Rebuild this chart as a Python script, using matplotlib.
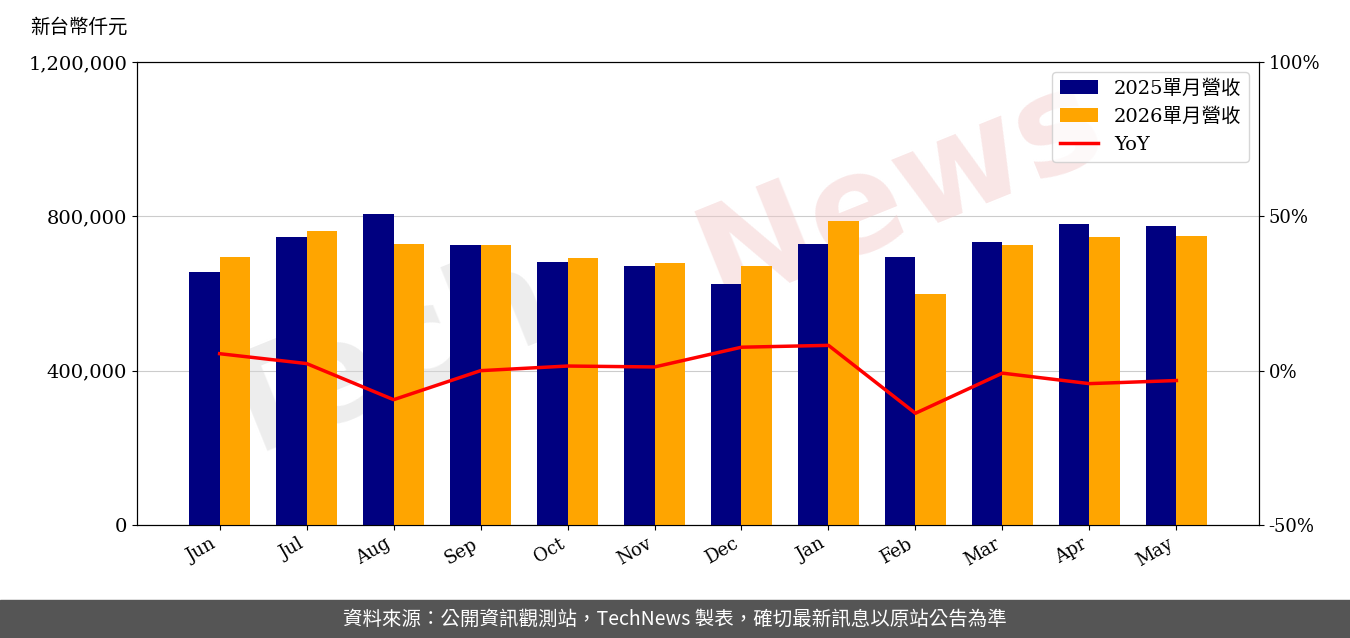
import matplotlib
matplotlib.use("Agg")
import matplotlib.pyplot as plt
import numpy as np

plt.rcParams['font.family'] = ['DejaVu Serif', 'Noto Sans CJK TC']

months = ["Jun", "Jul", "Aug", "Sep", "Oct", "Nov", "Dec", "Jan", "Feb", "Mar", "Apr", "May"]
rev_2025 = [657000, 746000, 805000, 725000, 681000, 671000, 624000, 727000, 694000, 733000, 779000, 774000]
rev_2026 = [694000, 761000, 727000, 725000, 691000, 678000, 671000, 787000, 598000, 725000, 746000, 748000]
yoy = [5.5, 2.3, -9.4, 0.0, 1.5, 1.2, 7.6, 8.2, -13.8, -0.8, -4.2, -3.2]

fig = plt.figure(figsize=(13.5, 6.38), dpi=100)
ax = fig.add_axes([137/1350, 1-525/638, (1259-137)/1350, (525-62)/638])
x = np.arange(len(months))
w = 0.35
b1 = ax.bar(x - w/2, rev_2025, w, color='#000080', label='2025單月營收', zorder=3)
b2 = ax.bar(x + w/2, rev_2026, w, color='#FFA500', label='2026單月營收', zorder=3)
ax.set_ylim(0, 1200000)
ax.set_yticks([0, 400000, 800000, 1200000])
ax.set_yticklabels(['0', '400,000', '800,000', '1,200,000'], fontsize=14)
ax.yaxis.grid(True, color='#cccccc', zorder=0)
ax.set_axisbelow(True)
ax.set_xlim(-0.95, 11.95)
ax.set_xticks(x)
ax.set_xticklabels(months, rotation=30, ha='right', fontsize=13)

# watermark behind bars: grey "Tech", pinkish "News"
ax.text(0.22, 0.35, 'Tech', transform=ax.transAxes, fontsize=100, rotation=22,
        color='#d8d8d8', alpha=0.45, ha='center', va='center', family=['DejaVu Sans'],
        weight='bold', zorder=1, clip_on=False)
ax.text(0.68, 0.72, 'News', transform=ax.transAxes, fontsize=100, rotation=22,
        color='#f2c8c8', alpha=0.45, ha='center', va='center', family=['DejaVu Sans'],
        weight='bold', zorder=1, clip_on=False)

ax2 = ax.twinx()
l, = ax2.plot(x, yoy, color='red', lw=2.5, label='YoY', zorder=4)
ax2.set_ylim(-50, 100)
ax2.set_yticks([-50, 0, 50, 100])
ax2.set_yticklabels(['-50%', '0%', '50%', '100%'], fontsize=13)

ax2.legend([b1, b2, l], ['2025單月營收', '2026單月營收', 'YoY'], loc='upper right', fontsize=14)

fig.text(30/1350, 1-27/638, '新台幣仟元', fontsize=14, va='center', family=['Noto Sans CJK TC'])

fig.patches.append(plt.Rectangle((0, 0), 1, 38/638, transform=fig.transFigure, color='#555555', zorder=0))
fig.text(0.5, 19/638, '資料來源：公開資訊觀測站，TechNews 製表，確切最新訊息以原站公告為準',
         color='white', fontsize=14, ha='center', va='center', family=['Noto Sans CJK TC'])

fig.savefig('out.png', dpi=100)
